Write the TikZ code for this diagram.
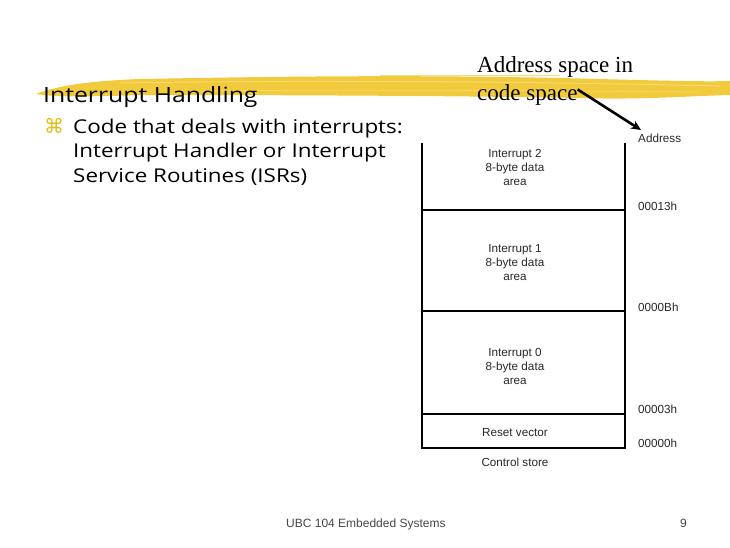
\documentclass[tikz,border=0pt]{standalone}
\usepackage{fontspec}
\setmainfont{Liberation Serif}
\newfontfamily\slidefont[FakeStretch=1.18]{Open Sans}
\newfontfamily\arialfont{Liberation Sans}
\newfontfamily\symfont{DejaVu Sans}
\usetikzlibrary{arrows.meta}
\definecolor{brush}{RGB}{240,196,40}
\definecolor{brushlight}{RGB}{248,222,120}
\definecolor{bulletc}{RGB}{225,190,20}
\definecolor{diagtext}{RGB}{40,40,40}
\definecolor{foot}{RGB}{70,70,70}
\tikzset{
  slide/.style={font=\slidefont\fontsize{19}{22}\selectfont, anchor=base west, inner sep=0pt},
  titletext/.style={font=\slidefont\fontsize{21}{24}\selectfont, anchor=base west, inner sep=0pt},
  serif/.style={font=\fontsize{23}{26}\selectfont, anchor=base west, inner sep=0pt},
  small/.style={font=\arialfont\fontsize{11.7}{13}\selectfont, text=diagtext, anchor=base, inner sep=0pt},
  addrlab/.style={font=\arialfont\fontsize{11.7}{13}\selectfont, text=diagtext, anchor=base west, inner sep=0pt},
  footer/.style={font=\arialfont\fontsize{12}{14}\selectfont, text=foot, anchor=base west, inner sep=0pt},
  memline/.style={line width=2.7pt, black},
}
\begin{document}
\begin{tikzpicture}[x=1pt,y=-1pt]
\useasboundingbox (0,0) rectangle (730,547);
% yellow brush stroke
\fill[brush, opacity=0.9]
  (36,94) .. controls (60,85) and (90,81) .. (140,79)
  .. controls (300,76) and (420,75) .. (560,78)
  .. controls (640,80) and (700,82) .. (730,81)
  -- (730,95)
  .. controls (690,96) and (640,100) .. (580,98)
  .. controls (470,96) and (300,95) .. (150,95)
  .. controls (100,96) and (60,98) .. (36,94) -- cycle;
\draw[brushlight, line width=1pt, opacity=0.8] (120,83) .. controls (300,80) and (500,81) .. (720,86);
\draw[brushlight, line width=0.8pt, opacity=0.7] (200,91) .. controls (400,89) and (550,91) .. (700,92);
\draw[brush, line width=0.6pt, opacity=0.6] (380,75) -- (560,75);
% title and bullet text
\node[titletext] (title) at (43,102) {Interrupt Handling};
\node[font=\symfont\fontsize{20}{22}\selectfont, text=bulletc, anchor=base west, inner sep=0pt] (bul) at (44,133) {⌘};
\node[slide] (l1) at (73,133) {Code that deals with interrupts:};
\node[slide] (l2) at (73,157) {Interrupt Handler or Interrupt};
\node[slide] (l3) at (73,182) {Service Routines (ISRs)};
% address space label
\node[serif] (addr1) at (477,72) {Address space in};
\node[serif] (addr2) at (477,100) {code space};
\coordinate (tip) at (641,130);
\draw[line width=2.6pt, -{Stealth[length=10pt,width=9pt]}] (addr2.east) ++(0,-5) -- (tip);
% memory map
\draw[memline] (422,143) -- (422,448) -- (625,448) -- (625,143);
\draw[memline] (422,210) -- (625,210);
\draw[memline] (422,311) -- (625,311);
\draw[memline] (422,414) -- (625,414);
\node[small] (i2a) at (515,157) {Interrupt 2};
\node[small] (i2b) at (515,171) {8-byte data};
\node[small] (i2c) at (515,185) {area};
\node[small] (i1a) at (515,252) {Interrupt 1};
\node[small] (i1b) at (515,266) {8-byte data};
\node[small] (i1c) at (515,280) {area};
\node[small] (i0a) at (515,356) {Interrupt 0};
\node[small] (i0b) at (515,370) {8-byte data};
\node[small] (i0c) at (515,384) {area};
\node[small] (rv) at (515,436) {Reset vector};
\node[small] (cs) at (515,466) {Control store};
\node[addrlab] (adr) at (638,142) {Address};
\node[addrlab] (a13) at (638,210) {00013h};
\node[addrlab] (a0b) at (638,311) {0000Bh};
\node[addrlab] (a03) at (638,413) {00003h};
\node[addrlab] (a00) at (638,447) {00000h};
% footer
\node[footer] (ft) at (286,527) {UBC 104 Embedded Systems};
\node[footer] (pg) at (680,527) {9};
\end{tikzpicture}
\end{document}
